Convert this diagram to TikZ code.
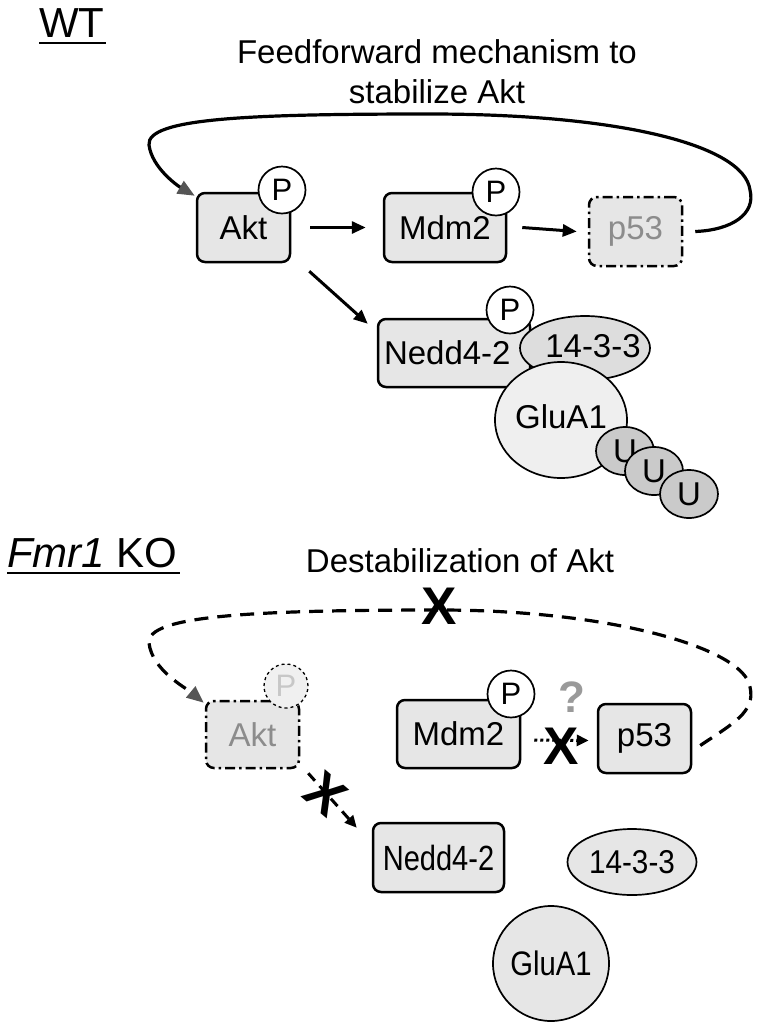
\documentclass[tikz,border=0pt]{standalone}
\usepackage{fontspec}
\usepackage{graphicx}
\setmainfont{Liberation Sans}
\usetikzlibrary{arrows.meta,shapes.geometric,calc}
\definecolor{boxfill}{HTML}{E6E6E6}
\definecolor{ovalfill}{HTML}{DDDDDD}
\definecolor{glufill}{HTML}{EFEFEF}
\definecolor{ufill}{HTML}{CACACA}
\definecolor{fadetext}{HTML}{8C8C8C}
\definecolor{tipgray}{HTML}{555555}
\definecolor{qgray}{HTML}{9A9A9A}
\tikzset{
  lbl/.style={font=\fontsize{33}{36}\selectfont, inner sep=0pt},
  head/.style={font=\fontsize{42}{46}\selectfont, inner sep=0pt},
  prot/.style={draw, line width=2.5pt, rounded corners=8pt, fill=boxfill,
    font=\fontsize{33}{36}\selectfont, inner sep=0pt},
  oval/.style={ellipse, draw, line width=1.7pt, fill=ovalfill, inner sep=0pt},
  ovaltext/.style={font=\fontsize{33}{36}\selectfont, inner sep=0pt},
  phos/.style={circle, draw, line width=1.7pt, fill=white, minimum size=47pt,
    inner sep=0pt, font=\fontsize{31}{34}\selectfont},
  arr/.style={line width=3pt, -{Triangle[length=14pt,width=12pt]}},
  loopline/.style={line width=3.2pt, -{Triangle[length=17pt,width=14pt,color=tipgray]}},
  xmark/.style={font=\fontsize{53}{53}\selectfont\bfseries, inner sep=0pt},
  dashdot/.style={dash pattern=on 10pt off 4pt on 2.5pt off 4pt},
}
\begin{document}
\begin{tikzpicture}[x=1pt,y=-1pt]
\useasboundingbox (0,0) rectangle (776,1029);

% ---------------- WT ----------------
\node[head, anchor=base west] (wt) at (39,37) {WT};
\draw[line width=2.5pt] ($(wt.base west)+(0,6)$) -- ($(wt.base east)+(1,6)$);
\node[lbl, anchor=base] (t1a) at (437,63) {Feedforward mechanism to};
\node[lbl, anchor=base] (t1b) at (437,103) {stabilize Akt};

\node[prot, minimum width=93pt, minimum height=69pt] (akt) at (243.5,227.5) {Akt};
\node[phos] (aktp) at (282,190) {P};
\node[prot, minimum width=122pt, minimum height=69pt] (mdm) at (445,227.5) {Mdm2};
\node[phos] (mdmp) at (496,192) {P};
\node[prot, dashdot, text=fadetext, minimum width=93pt, minimum height=69pt] (p53) at (635.5,231.5) {p53};

\draw[arr] ([xshift=19pt]akt.east) -- ([xshift=-17pt]mdm.west);
\draw[arr] ([xshift=15pt]mdm.east) -- ([xshift=-11pt]p53.west);

\draw[loopline] ([xshift=12pt]p53.east) .. controls (732,230) and (756,214) .. (750,190)
  .. controls (744,145) and (620,114) .. (430,114)
  .. controls (250,114) and (146,118) .. (149,145)
  .. controls (152,168) and (178,186) .. ([xshift=-1pt,yshift=-4pt]akt.north west);

% complex
\node[prot, minimum width=152pt, minimum height=68pt, text width=144pt, align=left] (nedd) at (454,353) {\hspace*{2pt}Nedd4-2};
\node[oval, minimum width=130pt, minimum height=64pt,
  label={[ovaltext]center:\hspace*{16pt}\raisebox{4pt}{14-3-3}}] (f1433) at (585,348) {};
\node[phos] (neddp) at (510,310) {P};
\node[oval, fill=glufill, minimum width=132pt, minimum height=116pt,
  label={[ovaltext]center:\raisebox{6pt}{GluA1}}] (glu) at (561,420) {};
\node[oval, fill=ufill, minimum width=58pt, minimum height=48pt, label={[ovaltext]center:U}] (u1) at (625,451) {};
\node[oval, fill=ufill, minimum width=58pt, minimum height=48pt, label={[ovaltext]center:U}] (u2) at (654,471) {};
\node[oval, fill=ufill, minimum width=58pt, minimum height=48pt, label={[ovaltext]center:U}] (u3) at (689,494) {};

\coordinate (aktout) at ([xshift=18pt,yshift=-8pt]akt.south east);
\draw[arr] (aktout) -- ([xshift=-9pt,yshift=-6pt]nedd.north west);

% ---------------- Fmr1 KO ----------------
\node[head, anchor=base west] (ko) at (7,567) {\textit{Fmr1} KO};
\draw[line width=2.5pt] ($(ko.base west)+(0,6)$) -- ($(ko.base east)+(2,6)$);
\node[lbl, anchor=base] (t2) at (460,572) {Destabilization of Akt};

\node[prot, dashdot, text=fadetext, minimum width=93pt, minimum height=67pt] (aktb) at (252.5,734.5) {Akt};
\node[phos, dashed, line width=1.3pt, fill=white!94!black, text=black!22, minimum size=44pt] (aktbp) at (286,686) {P};
\node[prot, minimum width=123pt, minimum height=68pt] (mdmb) at (458.5,734) {Mdm2};
\node[phos] (mdmbp) at (511,694) {P};
\node[prot, minimum width=93pt, minimum height=69pt] (p53b) at (644.5,738.5) {p53};
\node[prot, minimum width=131pt, minimum height=69pt, font=\fontsize{35}{38}\selectfont] (neddb) at (438.5,857.5) {\scalebox{0.83}[1]{Nedd4-2}};
\node[oval, fill=boxfill, minimum width=129pt, minimum height=66pt,
  label={[ovaltext]center:\scalebox{0.9}[1]{14-3-3}}] (f1433b) at (632,862) {};
\node[oval, fill=boxfill, minimum width=116pt, minimum height=115pt,
  label={[ovaltext, font=\fontsize{34}{36}\selectfont]center:\scalebox{0.86}[1]{GluA1}}] (glub) at (551,963.5) {};

\draw[line width=3.2pt, dash pattern=on 14pt off 9pt, -{Triangle[length=17pt,width=14pt,color=tipgray]}]
  ([xshift=8pt,yshift=-7pt]p53b.east) .. controls (732,724) and (756,712) .. (750,687)
  .. controls (744,648) and (610,610) .. (440,610)
  .. controls (250,610) and (146,616) .. (149,643)
  .. controls (152,670) and (186,688) .. ([xshift=-1pt,yshift=-3pt]aktb.north west);
\node[xmark] (xloop) at (439,606) {X};

\draw[line width=3pt, dash pattern=on 3pt off 3pt, -{Triangle[length=12pt,width=11pt]}]
  ([xshift=13pt,yshift=-6pt]mdmb.east) -- ([xshift=-8pt,yshift=-2pt]p53b.west);
\node[xmark] (xmid) at (561,746) {X};
\node[font=\fontsize{44}{44}\selectfont\bfseries, text=qgray, inner sep=0pt] (q) at (572,697) {?};

\draw[line width=3pt, dash pattern=on 10pt off 7pt, -{Triangle[length=12pt,width=11pt]}]
  ([xshift=8pt,yshift=-4pt]aktb.south east) -- ([xshift=-15pt,yshift=-6pt]neddb.north west);
\node[xmark, rotate=-40] (xdiag) at (326,794) {X};
\end{tikzpicture}
\end{document}
